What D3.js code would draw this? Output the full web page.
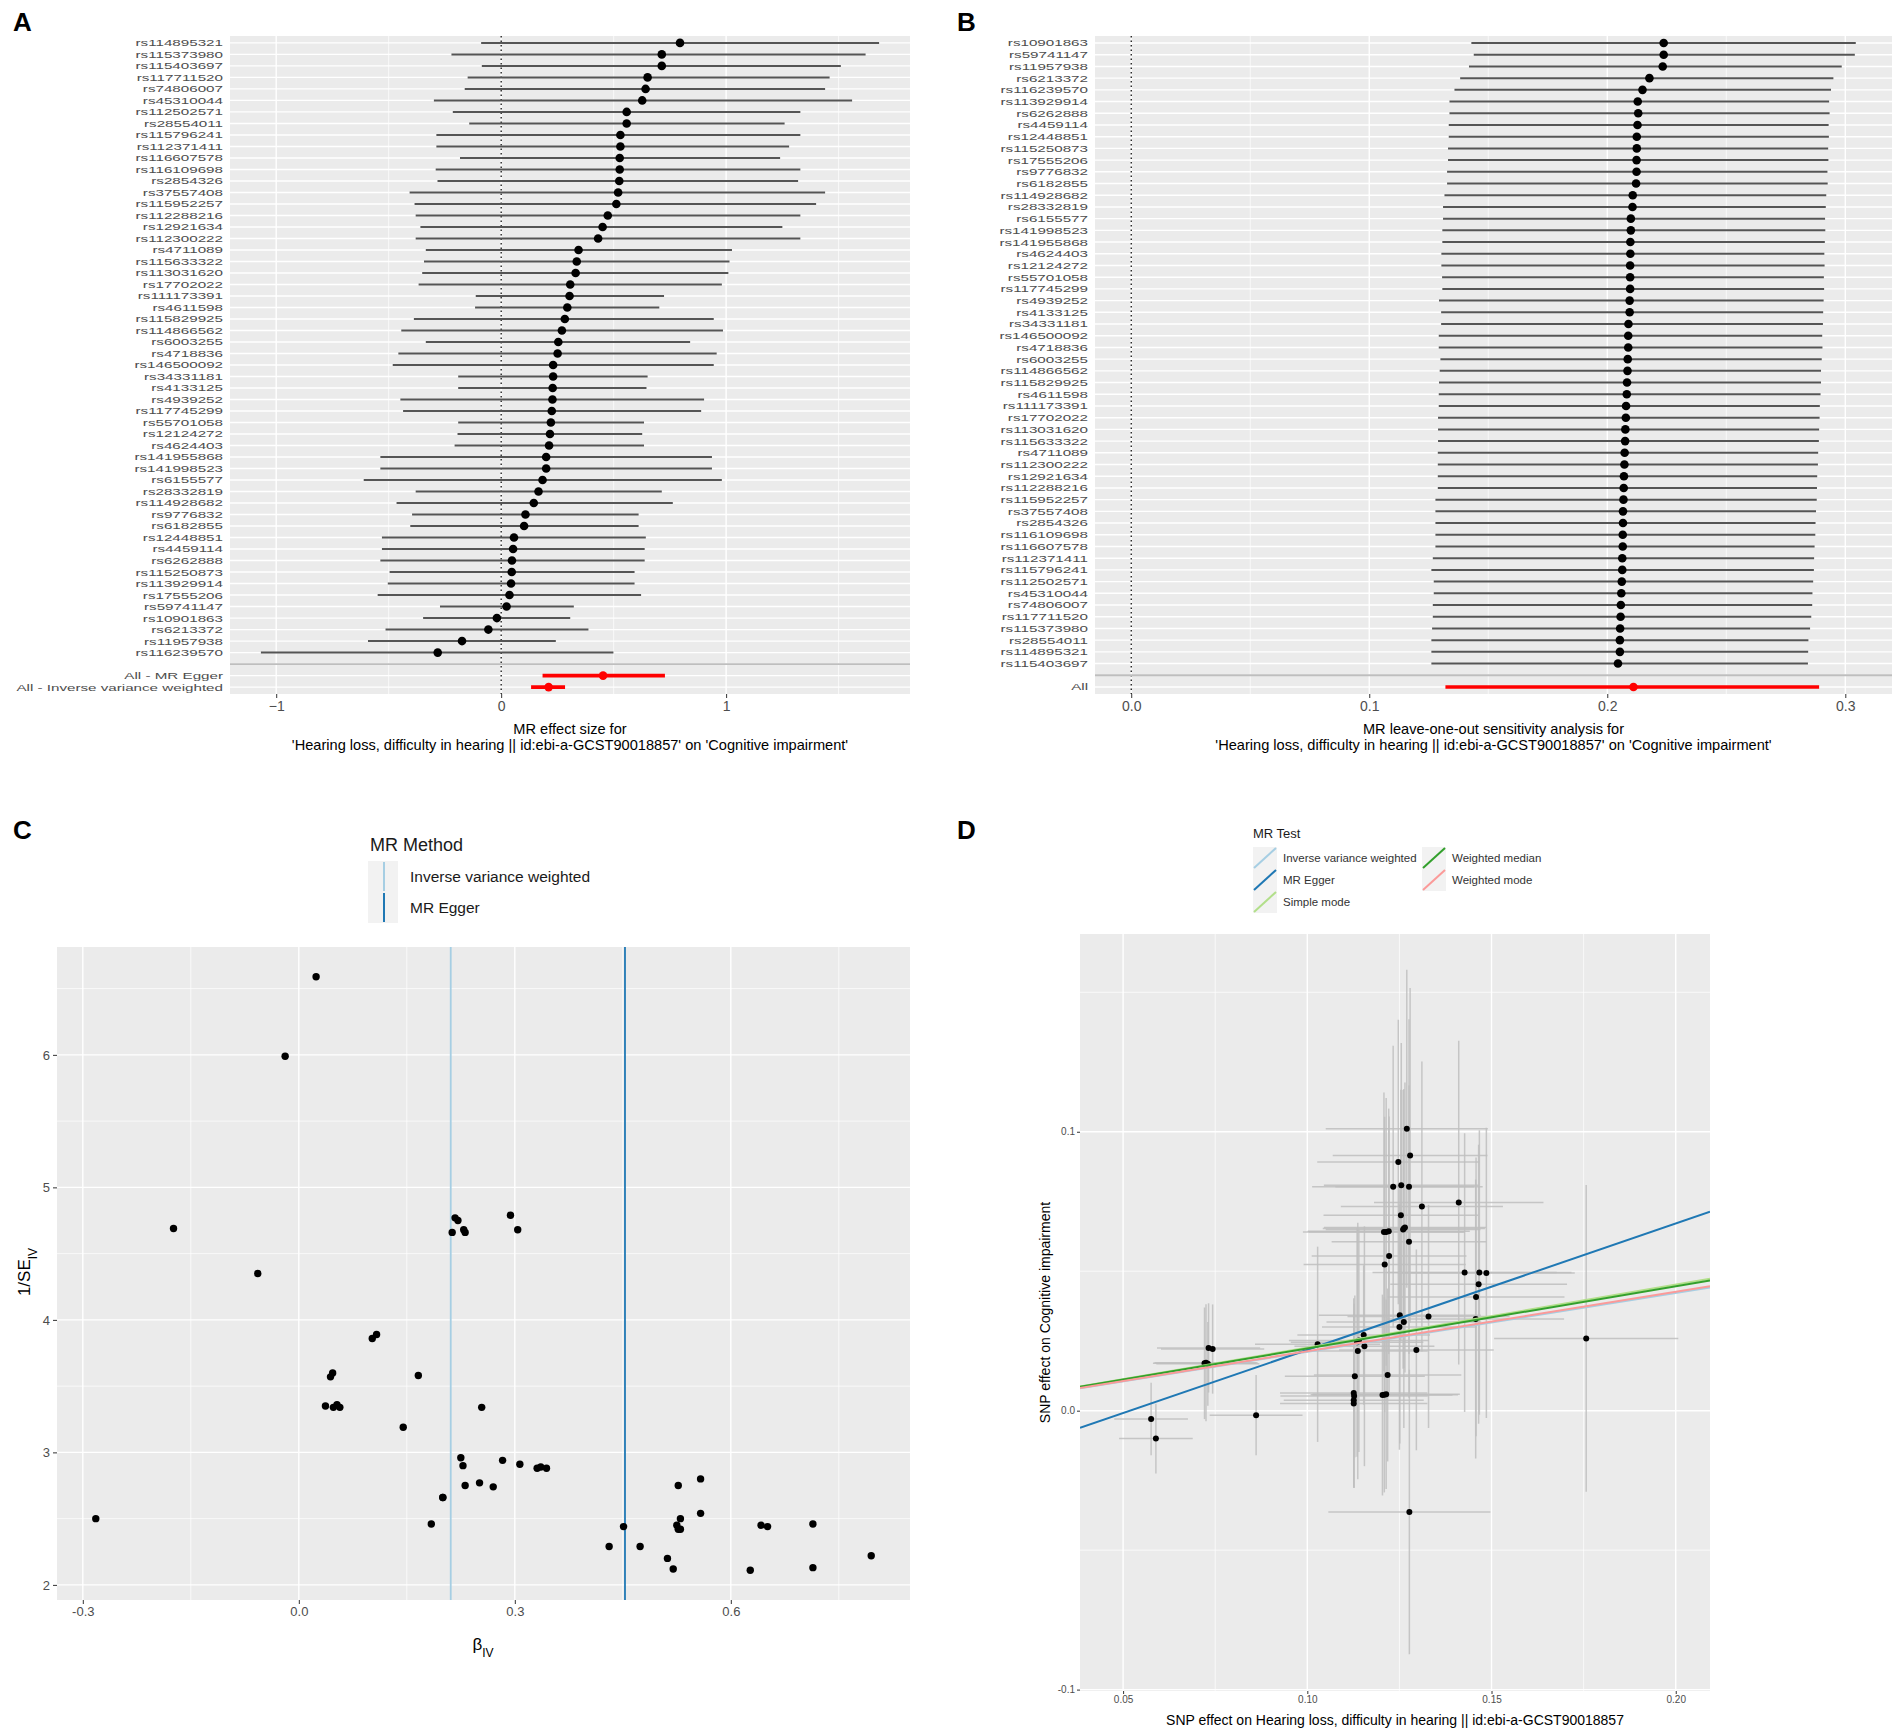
<!DOCTYPE html>
<html>
<head>
<meta charset="utf-8">
<script src="https://cdn.jsdelivr.net/npm/d3@7"></script>
<style>
body { margin: 0; background: #fff; }
svg text { font-family: "Liberation Sans", Arial, Helvetica, sans-serif; }
</style>
</head>
<body>
<svg id="fig" width="1902" height="1733"></svg>
<script>
/*********************/
/*** CHART DATA    ***/
/*********************/

// panel A: single SNP estimates (top to bottom)
var snp_a = ['rs114895321','rs115373980','rs115403697','rs117711520','rs74806007','rs45310044','rs112502571','rs28554011',
  'rs115796241','rs112371411','rs116607578','rs116109698','rs2854326','rs37557408','rs115952257','rs112288216','rs12921634',
  'rs112300222','rs4711089','rs115633322','rs113031620','rs17702022','rs111173391','rs4611598','rs115829925','rs114866562',
  'rs6003255','rs4718836','rs146500092','rs34331181','rs4133125','rs4939252','rs117745299','rs55701058','rs12124272',
  'rs4624403','rs141955868','rs141998523','rs6155577','rs28332819','rs114928682','rs9776832','rs6182855','rs12448851',
  'rs4459114','rs6262888','rs115250873','rs113929914','rs17555206','rs59741147','rs10901863','rs6213372','rs11957938','rs116239570'];
var beta_a = [0.795,0.714,0.714,0.651,0.642,0.627,0.558,0.558,0.530,0.530,0.527,0.527,0.525,0.520,0.512,0.474,0.451,0.431,
  0.344,0.336,0.331,0.307,0.304,0.294,0.283,0.270,0.254,0.251,0.231,0.231,0.229,0.228,0.225,0.221,0.217,0.213,0.200,0.200,
  0.184,0.166,0.145,0.108,0.102,0.057,0.053,0.048,0.047,0.044,0.037,0.024,-0.019,-0.057,-0.174,-0.282];
var lo_a = [-0.089,-0.221,-0.086,-0.149,-0.162,-0.299,-0.215,-0.142,-0.288,-0.288,-0.183,-0.291,-0.283,-0.407,-0.385,-0.380,
  -0.359,-0.380,-0.335,-0.343,-0.351,-0.367,-0.113,-0.116,-0.388,-0.444,-0.335,-0.457,-0.482,-0.191,-0.191,-0.448,-0.436,
  -0.191,-0.194,-0.207,-0.537,-0.537,-0.611,-0.380,-0.465,-0.396,-0.404,-0.530,-0.530,-0.537,-0.496,-0.504,-0.549,-0.272,
  -0.347,-0.514,-0.592,-1.068];
var hi_a = [1.680,1.620,1.510,1.460,1.440,1.560,1.330,1.260,1.330,1.280,1.240,1.330,1.320,1.440,1.400,1.330,1.250,1.330,
  1.026,1.015,1.010,0.981,0.724,0.703,0.945,0.986,0.840,0.958,0.945,0.651,0.646,0.902,0.889,0.635,0.627,0.635,0.937,0.937,
  0.981,0.714,0.763,0.611,0.611,0.643,0.638,0.638,0.593,0.593,0.622,0.323,0.307,0.388,0.243,0.499];
var sum_labels_a = ['All - MR Egger', 'All - Inverse variance weighted'];
var sum_est_a = [0.453, 0.211];
var sum_lo_a  = [0.184, 0.133];
var sum_hi_a  = [0.728, 0.284];

// panel B: leave-one-out estimates (top to bottom)
var snp_b = ['rs10901863','rs59741147','rs11957938','rs6213372','rs116239570','rs113929914','rs6262888','rs4459114',
  'rs12448851','rs115250873','rs17555206','rs9776832','rs6182855','rs114928682','rs28332819','rs6155577','rs141998523',
  'rs141955868','rs4624403','rs12124272','rs55701058','rs117745299','rs4939252','rs4133125','rs34331181','rs146500092',
  'rs4718836','rs6003255','rs114866562','rs115829925','rs4611598','rs111173391','rs17702022','rs113031620','rs115633322',
  'rs4711089','rs112300222','rs12921634','rs112288216','rs115952257','rs37557408','rs2854326','rs116109698','rs116607578',
  'rs112371411','rs115796241','rs112502571','rs45310044','rs74806007','rs117711520','rs115373980','rs28554011',
  'rs114895321','rs115403697'];
var loo_b = [0.2237,0.2237,0.2233,0.2177,0.2148,0.2128,0.2130,0.2127,0.2124,0.2124,0.2123,0.2123,0.2121,0.2107,0.2106,
  0.2099,0.2099,0.2097,0.2097,0.2096,0.2096,0.2096,0.2094,0.2094,0.2089,0.2088,0.2088,0.2086,0.2085,0.2083,0.2082,0.2079,
  0.2078,0.2076,0.2075,0.2073,0.2072,0.2070,0.2069,0.2068,0.2066,0.2066,0.2065,0.2065,0.2063,0.2063,0.2061,0.2059,0.2057,
  0.2056,0.2054,0.2053,0.2053,0.2045];
var lo_b = [0.1429,0.1439,0.1419,0.1382,0.1358,0.1337,0.1337,0.1334,0.1334,0.1331,0.1331,0.1327,0.1327,0.1316,0.1310,
  0.1310,0.1307,0.1307,0.1303,0.1303,0.1306,0.1307,0.1293,0.1302,0.1302,0.1292,0.1292,0.1299,0.1296,0.1293,0.1292,0.1292,
  0.1289,0.1289,0.1289,0.1288,0.1288,0.1288,0.1288,0.1278,0.1278,0.1278,0.1278,0.1278,0.1267,0.1261,0.1271,0.1271,0.1267,
  0.1267,0.1264,0.1261,0.1261,0.1261];
var hi_b = [0.3044,0.3040,0.2985,0.2950,0.2940,0.2932,0.2934,0.2930,0.2931,0.2928,0.2929,0.2925,0.2926,0.2920,0.2918,
  0.2915,0.2916,0.2914,0.2912,0.2913,0.2910,0.2911,0.2909,0.2907,0.2906,0.2903,0.2904,0.2901,0.2898,0.2898,0.2896,0.2893,
  0.2892,0.2890,0.2889,0.2886,0.2885,0.2882,0.2881,0.2880,0.2877,0.2875,0.2874,0.2871,0.2869,0.2868,0.2865,0.2862,0.2861,
  0.2857,0.2852,0.2845,0.2844,0.2843];
var sum_labels_b = ['All'];
var sum_est_b = [0.211];
var sum_lo_b  = [0.132];
var sum_hi_b  = [0.289];

// panel C: funnel plot (beta_a on x, 1/SE on y)
var inv_se_c = [2.22,2.13,2.46,2.44,2.45,2.11,2.54,2.80,2.42,2.50,2.75,2.42,2.45,2.12,2.20,2.29,2.44,2.29,2.88,2.89,2.88,
  2.91,4.68,4.79,2.94,2.74,3.34,2.77,2.75,4.66,4.68,2.90,2.96,4.75,4.77,4.66,2.66,2.66,2.46,3.58,3.19,3.89,3.86,3.34,3.36,
  3.34,3.60,3.57,3.35,6.59,5.99,4.35,4.69,2.50];
var method_c = ['Inverse variance weighted', 'MR Egger'];
var method_c_beta = [0.211, 0.453];
var method_c_col = ['#a6cee3', '#1f78b4'];

// panel D: scatter of SNP effects
var bx_d = [0.1270,0.1279,0.1247,0.1233,0.1255,0.1276,0.1411,0.1311,0.1254,0.1208,0.1221,0.1260,0.1265,0.1276,0.1222,
  0.1210,0.1427,0.1467,0.1486,0.1465,0.1458,0.1251,0.1262,0.1329,0.1457,0.1757,0.1028,0.1153,0.1155,0.1137,0.1296,0.0732,
  0.0743,0.0721,0.0730,0.1129,0.1218,0.1126,0.1127,0.1126,0.1126,0.1204,0.1214,0.0861,0.0576,0.0589,0.1277,0.1214,0.1262,
  0.1209,0.0725,0.1140,0.1135,0.1250];
var by_d = [0.1011,0.0915,0.0892,0.0803,0.0808,0.0803,0.0746,0.0732,0.0701,0.0641,0.0643,0.0650,0.0657,0.0606,0.0555,
  0.0524,0.0495,0.0495,0.0494,0.0453,0.0408,0.0342,0.0318,0.0338,0.0329,0.0259,0.0238,0.0271,0.0231,0.0214,0.0218,0.0225,
  0.0221,0.0170,0.0168,0.0123,0.0128,0.0063,0.0053,0.0037,0.0026,0.0056,0.0059,-0.0016,-0.0030,-0.0100,-0.0363,0.0641,
  0.0653,0.0057,0.0172,0.0252,0.0245,0.0300];
var sx_d = [0.022,0.021,0.022,0.022,0.021,0.020,0.023,0.022,0.021,0.022,0.022,0.021,0.022,0.021,0.021,0.022,0.025,0.025,
  0.024,0.024,0.024,0.022,0.021,0.022,0.024,0.025,0.017,0.018,0.019,0.019,0.021,0.014,0.014,0.014,0.014,0.019,0.020,0.020,
  0.020,0.019,0.020,0.019,0.020,0.0126,0.010,0.010,0.022,0.021,0.022,0.020,0.014,0.019,0.018,0.021];
var sy_d = [0.057,0.060,0.051,0.0505,0.051,0.060,0.058,0.052,0.045,0.050,0.044,0.050,0.052,0.056,0.050,0.053,0.050,0.051,
  0.052,0.050,0.050,0.046,0.038,0.040,0.050,0.055,0.035,0.025,0.043,0.046,0.036,0.016,0.016,0.020,0.015,0.029,0.031,0.034,
  0.033,0.031,0.017,0.036,0.034,0.0144,0.013,0.0125,0.051,0.048,0.050,0.035,0.021,0.040,0.041,0.044];
var method_d = ['Inverse variance weighted', 'MR Egger', 'Simple mode', 'Weighted median', 'Weighted mode'];
var method_d_slope = [0.211, 0.453, 0.226, 0.223, 0.213];
var method_d_icpt  = [0, -0.0235, 0, 0, 0];
var method_d_col   = ['#a6cee3', '#1f78b4', '#b2df8a', '#33a02c', '#fb9a99'];

var exposure_name = 'Hearing loss, difficulty in hearing || id:ebi-a-GCST90018857';
var outcome_name  = 'Cognitive impairment';

/*********************/
/*** INIT VARIABLE ***/
/*********************/

var fig = d3.select('#fig');
var PANEL_BG = '#ebebeb', TXT = '#4d4d4d', TICK = '#333333';

fig.append('rect').attr('width', 1902).attr('height', 1733).attr('fill', '#ffffff');

/********************************/
/*** DECLARE HELPER FUNCTIONS ***/
/********************************/

function expand(ext, f) {
    var w = ext[1] - ext[0];
    return [ext[0] - w * f, ext[1] + w * f];
}

function dash_fmt(digits) {
    return function(d) { return d.toFixed(digits); };
}

// grey panel + white grid lines
function draw_panel(g, x, y, box, xmaj, xmin, ymaj, ymin) {
    g.append('rect')
        .attr('x', box.left).attr('y', box.top)
        .attr('width', box.right - box.left).attr('height', box.bottom - box.top)
        .attr('fill', PANEL_BG);

    g.selectAll(null).data(xmin).enter().append('line')
        .attr('x1', d => x(d)).attr('x2', d => x(d))
        .attr('y1', box.top).attr('y2', box.bottom)
        .attr('stroke', '#fff').attr('stroke-width', 0.7);
    g.selectAll(null).data(ymin).enter().append('line')
        .attr('y1', d => y(d)).attr('y2', d => y(d))
        .attr('x1', box.left).attr('x2', box.right)
        .attr('stroke', '#fff').attr('stroke-width', 0.7);
    g.selectAll(null).data(xmaj).enter().append('line')
        .attr('x1', d => x(d)).attr('x2', d => x(d))
        .attr('y1', box.top).attr('y2', box.bottom)
        .attr('stroke', '#fff').attr('stroke-width', 1.4);
    g.selectAll(null).data(ymaj).enter().append('line')
        .attr('y1', d => y(d)).attr('y2', d => y(d))
        .attr('x1', box.left).attr('x2', box.right)
        .attr('stroke', '#fff').attr('stroke-width', 1.4);
}

function style_axis(sel, size) {
    sel.select('.domain').remove();
    sel.selectAll('.tick line').attr('stroke', TICK).attr('stroke-width', 1);
    sel.selectAll('.tick text').attr('fill', TXT).style('font-size', size + 'px');
}

function panel_letter(txt, x, y) {
    fig.append('text')
        .attr('x', x).attr('y', y)
        .style('font-size', '26px').style('font-weight', 'bold')
        .attr('fill', '#000')
        .text(txt);
}

function render_forest(cfg) {
    var g = fig.append('g');
    var n = cfg.labels.length;
    var rows = cfg.labels.concat([''], cfg.sum_labels);
    var est  = cfg.est.concat([null], cfg.sum_est);
    var lo   = cfg.lo.concat([null], cfg.sum_lo);
    var hi   = cfg.hi.concat([null], cfg.sum_hi);

    var y = d3.scalePoint()
        .domain(d3.range(rows.length))
        .range([cfg.box.top, cfg.box.bottom])
        .padding(0.6);

    var x_ext = d3.extent(cfg.lo.concat(cfg.hi, cfg.sum_lo, cfg.sum_hi, [0]));
    var x = d3.scaleLinear()
        .domain(expand(x_ext, 0.05))
        .range([cfg.box.left, cfg.box.right]);

    draw_panel(g, x, function(d) { return y(d); }, cfg.box, cfg.xmaj, cfg.xmin, d3.range(rows.length), []);

    // dotted line at zero
    g.append('line')
        .attr('x1', x(0)).attr('x2', x(0))
        .attr('y1', cfg.box.top).attr('y2', cfg.box.bottom)
        .attr('stroke', '#000').attr('stroke-width', 1.2)
        .attr('stroke-dasharray', '1.5,3');

    // separator before the summary rows
    g.append('line')
        .attr('x1', cfg.box.left).attr('x2', cfg.box.right)
        .attr('y1', y(n)).attr('y2', y(n))
        .attr('stroke', '#bebebe').attr('stroke-width', 1.8);

    var idx = d3.range(rows.length).filter(i => i !== n);

    g.selectAll(null).data(idx).enter().append('line')
        .attr('x1', i => x(lo[i])).attr('x2', i => x(hi[i]))
        .attr('y1', i => y(i)).attr('y2', i => y(i))
        .attr('stroke', i => i > n ? '#ff0000' : '#555555')
        .attr('stroke-width', i => i > n ? 3.6 : 2);

    g.selectAll(null).data(idx).enter().append('circle')
        .attr('cx', i => x(est[i])).attr('cy', i => y(i))
        .attr('r', 4.3)
        .attr('fill', i => i > n ? '#ff0000' : '#000');

    // row labels: rows are tighter than the type, so glyphs are kept short and stretched sideways
    g.selectAll(null).data(idx).enter().append('text')
        .attr('transform', i => `translate(${cfg.box.left - 7}, ${y(i)}) scale(1.55, 1)`)
        .attr('dy', '0.35em')
        .attr('text-anchor', 'end')
        .attr('fill', TXT)
        .style('font-size', '9.8px')
        .text(i => rows[i]);

    var ax = g.append('g')
        .attr('transform', `translate(0, ${cfg.box.bottom})`)
        .call(d3.axisBottom(x).tickValues(cfg.xmaj).tickFormat(cfg.fmt).tickSize(4).tickPadding(3));
    style_axis(ax, 14);

    var cx = (cfg.box.left + cfg.box.right) / 2;
    g.append('text').attr('x', cx).attr('y', 734).attr('text-anchor', 'middle')
        .style('font-size', '14.6px').attr('fill', '#000').text(cfg.title);
    g.append('text').attr('x', cx).attr('y', 750).attr('text-anchor', 'middle')
        .style('font-size', '14.6px').attr('fill', '#000')
        .text(`'${exposure_name}' on '${outcome_name}'`);
}

function render_funnel() {
    var g = fig.append('g');
    var box = {left: 57, right: 910, top: 947, bottom: 1600};

    var x = d3.scaleLinear().domain(expand(d3.extent(beta_a), 0.05)).range([box.left, box.right]);
    var y = d3.scaleLinear().domain(expand(d3.extent(inv_se_c), 0.05)).range([box.bottom, box.top]);

    draw_panel(g, x, y, box, [-0.3, 0, 0.3, 0.6], [-0.15, 0.15, 0.45, 0.75], [2, 3, 4, 5, 6], [2.5, 3.5, 4.5, 5.5, 6.5]);

    g.selectAll(null).data(method_c_beta).enter().append('line')
        .attr('x1', d => x(d)).attr('x2', d => x(d))
        .attr('y1', box.top).attr('y2', box.bottom)
        .attr('stroke', (d, i) => method_c_col[i]).attr('stroke-width', 1.8);

    g.selectAll(null).data(beta_a).enter().append('circle')
        .attr('cx', d => x(d)).attr('cy', (d, i) => y(inv_se_c[i]))
        .attr('r', 3.7).attr('fill', '#000');

    var ax = g.append('g').attr('transform', `translate(0, ${box.bottom})`)
        .call(d3.axisBottom(x).tickValues([-0.3, 0, 0.3, 0.6]).tickFormat(dash_fmt(1)).tickSize(4).tickPadding(3));
    style_axis(ax, 13);
    var ay = g.append('g').attr('transform', `translate(${box.left}, 0)`)
        .call(d3.axisLeft(y).tickValues([2, 3, 4, 5, 6]).tickFormat(d3.format('d')).tickSize(4).tickPadding(3));
    style_axis(ay, 13);

    // axis titles with subscripts
    var xt = g.append('text').attr('x', 483).attr('y', 1650).attr('text-anchor', 'middle')
        .style('font-size', '17px').attr('fill', '#000');
    xt.append('tspan').text('\u03b2');
    xt.append('tspan').attr('baseline-shift', 'sub').style('font-size', '12px').text('IV');

    var yt = g.append('text').attr('transform', 'translate(30, 1272) rotate(-90)').attr('text-anchor', 'middle')
        .style('font-size', '17px').attr('fill', '#000');
    yt.append('tspan').text('1/SE');
    yt.append('tspan').attr('baseline-shift', 'sub').style('font-size', '12px').text('IV');

    // legend
    var lg = g.append('g');
    lg.append('text').attr('x', 370).attr('y', 851).style('font-size', '18px').attr('fill', '#1a1a1a').text('MR Method');
    lg.selectAll(null).data(method_c).enter().append('rect')
        .attr('x', 368).attr('y', (d, i) => 861 + i * 31).attr('width', 30).attr('height', 31).attr('fill', '#f2f2f2');
    lg.selectAll(null).data(method_c).enter().append('line')
        .attr('x1', 384).attr('x2', 384)
        .attr('y1', (d, i) => 862 + i * 31).attr('y2', (d, i) => 891 + i * 31)
        .attr('stroke', (d, i) => method_c_col[i]).attr('stroke-width', 2);
    lg.selectAll(null).data(method_c).enter().append('text')
        .attr('x', 410).attr('y', (d, i) => 876.5 + i * 31).attr('dy', '0.35em')
        .style('font-size', '15.5px').attr('fill', '#1a1a1a').text(d => d);
}

function render_scatter() {
    var g = fig.append('g');
    var box = {left: 1080, right: 1710, top: 934, bottom: 1691};

    var x = d3.scaleLinear().domain([0.0383, 0.2093]).range([box.left, box.right]);
    var y = d3.scaleLinear().domain([-0.1005, 0.1709]).range([box.bottom, box.top]);

    draw_panel(g, x, y, box, [0.05, 0.10, 0.15, 0.20], [0.075, 0.125, 0.175], [-0.1, 0, 0.1], [-0.05, 0.05, 0.15]);

    fig.append('clipPath').attr('id', 'clip-d').append('rect')
        .attr('x', box.left).attr('y', box.top)
        .attr('width', box.right - box.left).attr('height', box.bottom - box.top);
    var inner = g.append('g').attr('clip-path', 'url(#clip-d)');

    // error bars
    inner.selectAll(null).data(bx_d).enter().append('line')
        .attr('x1', d => x(d)).attr('x2', d => x(d))
        .attr('y1', (d, i) => y(by_d[i] - sy_d[i])).attr('y2', (d, i) => y(by_d[i] + sy_d[i]))
        .attr('stroke', '#bebebe').attr('stroke-width', 1.5).attr('stroke-opacity', 0.85);
    inner.selectAll(null).data(bx_d).enter().append('line')
        .attr('x1', (d, i) => x(d - sx_d[i])).attr('x2', (d, i) => x(d + sx_d[i]))
        .attr('y1', (d, i) => y(by_d[i])).attr('y2', (d, i) => y(by_d[i]))
        .attr('stroke', '#bebebe').attr('stroke-width', 1.5).attr('stroke-opacity', 0.85);

    inner.selectAll(null).data(bx_d).enter().append('circle')
        .attr('cx', d => x(d)).attr('cy', (d, i) => y(by_d[i]))
        .attr('r', 3).attr('fill', '#000');

    // MR fit lines
    var xd = x.domain();
    inner.selectAll(null).data(method_d).enter().append('line')
        .attr('x1', x(xd[0])).attr('x2', x(xd[1]))
        .attr('y1', (d, i) => y(method_d_icpt[i] + method_d_slope[i] * xd[0]))
        .attr('y2', (d, i) => y(method_d_icpt[i] + method_d_slope[i] * xd[1]))
        .attr('stroke', (d, i) => method_d_col[i]).attr('stroke-width', 2);

    var ax = g.append('g').attr('transform', `translate(0, ${box.bottom})`)
        .call(d3.axisBottom(x).tickValues([0.05, 0.10, 0.15, 0.20]).tickFormat(dash_fmt(2)).tickSize(3).tickPadding(2));
    style_axis(ax, 10);
    var ay = g.append('g').attr('transform', `translate(${box.left}, 0)`)
        .call(d3.axisLeft(y).tickValues([-0.1, 0, 0.1]).tickFormat(dash_fmt(1)).tickSize(3).tickPadding(2));
    style_axis(ay, 10);

    g.append('text').attr('x', (box.left + box.right) / 2).attr('y', 1725).attr('text-anchor', 'middle')
        .style('font-size', '14px').attr('fill', '#000').text('SNP effect on ' + exposure_name);
    g.append('text').attr('transform', `translate(1050, ${(box.top + box.bottom) / 2}) rotate(-90)`)
        .attr('text-anchor', 'middle')
        .style('font-size', '14px').attr('fill', '#000').text('SNP effect on ' + outcome_name);

    // legend, two columns
    var lg = g.append('g');
    lg.append('text').attr('x', 1253).attr('y', 838).style('font-size', '13px').attr('fill', '#1a1a1a').text('MR Test');
    var kx = function(i) { return i < 3 ? 1253 : 1422; };
    var ky = function(i) { return 847 + (i % 3) * 22; };
    lg.selectAll(null).data(method_d).enter().append('rect')
        .attr('x', (d, i) => kx(i)).attr('y', (d, i) => ky(i)).attr('width', 24).attr('height', 22).attr('fill', '#f2f2f2');
    lg.selectAll(null).data(method_d).enter().append('line')
        .attr('x1', (d, i) => kx(i) + 1).attr('x2', (d, i) => kx(i) + 23)
        .attr('y1', (d, i) => ky(i) + 21).attr('y2', (d, i) => ky(i) + 1)
        .attr('stroke', (d, i) => method_d_col[i]).attr('stroke-width', 2);
    lg.selectAll(null).data(method_d).enter().append('text')
        .attr('x', (d, i) => kx(i) + 30).attr('y', (d, i) => ky(i) + 11).attr('dy', '0.35em')
        .style('font-size', '11.5px').attr('fill', '#333').text(d => d);
}

/*********************/
/*** RENDER        ***/
/*********************/

render_forest({
    labels: snp_a, est: beta_a, lo: lo_a, hi: hi_a,
    sum_labels: sum_labels_a, sum_est: sum_est_a, sum_lo: sum_lo_a, sum_hi: sum_hi_a,
    box: {left: 230, right: 910, top: 36, bottom: 694},
    xmaj: [-1, 0, 1], xmin: [-0.5, 0.5, 1.5],
    fmt: d3.format('d'),
    title: 'MR effect size for'
});

render_forest({
    labels: snp_b, est: loo_b, lo: lo_b, hi: hi_b,
    sum_labels: sum_labels_b, sum_est: sum_est_b, sum_lo: sum_lo_b, sum_hi: sum_hi_b,
    box: {left: 1095, right: 1892, top: 36, bottom: 694},
    xmaj: [0, 0.1, 0.2, 0.3], xmin: [0.05, 0.15, 0.25],
    fmt: dash_fmt(1),
    title: 'MR leave-one-out sensitivity analysis for'
});

render_funnel();
render_scatter();

panel_letter('A', 13, 31);
panel_letter('B', 957, 31);
panel_letter('C', 13, 839);
panel_letter('D', 957, 839);
</script>
</body>
</html>
